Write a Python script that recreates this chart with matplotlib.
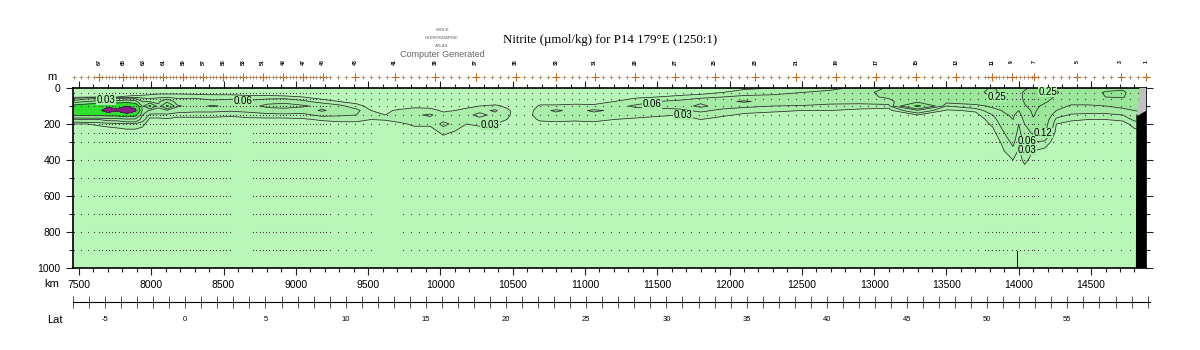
import numpy as np
import matplotlib
matplotlib.use('Agg')
import matplotlib.pyplot as plt
from matplotlib.ticker import MultipleLocator, FixedLocator

plt.rcParams['font.family'] = ['Liberation Sans', 'DejaVu Sans']

#- section grid
depth_m = [0, 25, 50, 75, 100, 125, 150, 175, 200, 250, 300, 350, 400, 450, 1000]
dist_km = [7459, 7560, 7640, 7700, 7760, 7830, 7890, 7940, 7990, 8050,
           8110, 8180, 8300, 8420, 8550, 8680, 8800, 8920, 9050, 9180,
           9300, 9420, 9520, 9620, 9720, 9820, 9930, 10020, 10100, 10180,
           10270, 10380, 10460, 10530, 10620, 10690, 10800, 10930, 11060, 11200,
           11350, 11500, 11650, 11800, 11950, 12100, 12300, 12500, 12700, 12900,
           13100, 13300, 13500, 13700, 13820, 13900, 13960, 14000, 14040, 14100,
           14180, 14260, 14360, 14480, 14600, 14720, 14800, 14880]
# one profile per distance, values on depth_m
nitrite = [
    [0.01, 0.01, 0.02, 0.15, 0.6, 0.7, 0.55, 0.1, 0.03, 0.01, 0.01, 0.01, 0.01, 0.01, 0.01],
    [0.01, 0.01, 0.025, 0.25, 0.7, 0.8, 0.55, 0.12, 0.03, 0.01, 0.01, 0.01, 0.01, 0.01, 0.01],
    [0.01, 0.01, 0.03, 0.3, 0.8, 0.9, 0.55, 0.12, 0.035, 0.01, 0.01, 0.01, 0.01, 0.01, 0.01],
    [0.01, 0.01, 0.03, 0.3, 0.9, 1.3, 0.6, 0.15, 0.04, 0.01, 0.01, 0.01, 0.01, 0.01, 0.01],
    [0.01, 0.01, 0.03, 0.3, 0.9, 1.05, 0.6, 0.15, 0.045, 0.01, 0.01, 0.01, 0.01, 0.01, 0.01],
    [0.01, 0.01, 0.035, 0.35, 1.0, 1.5, 0.7, 0.2, 0.05, 0.015, 0.01, 0.01, 0.01, 0.01, 0.01],
    [0.01, 0.01, 0.04, 0.3, 0.8, 1.1, 0.6, 0.2, 0.05, 0.015, 0.01, 0.01, 0.01, 0.01, 0.01],
    [0.01, 0.015, 0.04, 0.12, 0.2, 0.2, 0.12, 0.08, 0.04, 0.01, 0.01, 0.01, 0.01, 0.01, 0.01],
    [0.01, 0.02, 0.04, 0.1, 0.55, 0.1, 0.05, 0.02, 0.01, 0.01, 0.01, 0.01, 0.01, 0.01, 0.01],
    [0.01, 0.02, 0.05, 0.1, 0.14, 0.09, 0.05, 0.02, 0.01, 0.01, 0.01, 0.01, 0.01, 0.01, 0.01],
    [0.01, 0.02, 0.05, 0.2, 0.55, 0.1, 0.05, 0.025, 0.01, 0.01, 0.01, 0.01, 0.01, 0.01, 0.01],
    [0.01, 0.02, 0.05, 0.08, 0.13, 0.08, 0.04, 0.02, 0.01, 0.01, 0.01, 0.01, 0.01, 0.01, 0.01],
    [0.01, 0.02, 0.045, 0.1, 0.09, 0.07, 0.04, 0.02, 0.01, 0.01, 0.01, 0.01, 0.01, 0.01, 0.01],
    [0.01, 0.02, 0.04, 0.07, 0.13, 0.07, 0.04, 0.02, 0.01, 0.01, 0.01, 0.01, 0.01, 0.01, 0.01],
    [0.01, 0.02, 0.04, 0.08, 0.1, 0.065, 0.035, 0.02, 0.01, 0.01, 0.01, 0.01, 0.01, 0.01, 0.01],
    [0.01, 0.02, 0.035, 0.07, 0.09, 0.07, 0.045, 0.02, 0.01, 0.01, 0.01, 0.01, 0.01, 0.01, 0.01],
    [0.01, 0.02, 0.035, 0.09, 0.14, 0.08, 0.05, 0.02, 0.01, 0.01, 0.01, 0.01, 0.01, 0.01, 0.01],
    [0.01, 0.015, 0.035, 0.1, 0.15, 0.09, 0.05, 0.02, 0.01, 0.01, 0.01, 0.01, 0.01, 0.01, 0.01],
    [0.01, 0.015, 0.03, 0.07, 0.13, 0.08, 0.05, 0.025, 0.01, 0.01, 0.01, 0.01, 0.01, 0.01, 0.01],
    [0.01, 0.01, 0.02, 0.04, 0.1, 0.13, 0.07, 0.035, 0.015, 0.01, 0.01, 0.01, 0.01, 0.01, 0.01],
    [0.01, 0.01, 0.02, 0.03, 0.07, 0.09, 0.065, 0.04, 0.02, 0.01, 0.01, 0.01, 0.01, 0.01, 0.01],
    [0.01, 0.01, 0.015, 0.02, 0.04, 0.07, 0.06, 0.04, 0.02, 0.01, 0.01, 0.01, 0.01, 0.01, 0.01],
    [0.01, 0.01, 0.01, 0.015, 0.02, 0.03, 0.035, 0.03, 0.02, 0.01, 0.01, 0.01, 0.01, 0.01, 0.01],
    [0.01, 0.01, 0.01, 0.01, 0.015, 0.025, 0.03, 0.032, 0.02, 0.01, 0.01, 0.01, 0.01, 0.01, 0.01],
    [0.01, 0.01, 0.01, 0.01, 0.015, 0.035, 0.045, 0.04, 0.025, 0.01, 0.01, 0.01, 0.01, 0.01, 0.01],
    [0.01, 0.01, 0.01, 0.01, 0.02, 0.045, 0.055, 0.045, 0.035, 0.015, 0.01, 0.01, 0.01, 0.01, 0.01],
    [0.01, 0.01, 0.01, 0.01, 0.02, 0.04, 0.065, 0.05, 0.035, 0.015, 0.01, 0.01, 0.01, 0.01, 0.01],
    [0.01, 0.01, 0.01, 0.01, 0.015, 0.025, 0.04, 0.05, 0.07, 0.035, 0.015, 0.01, 0.01, 0.01, 0.01],
    [0.01, 0.01, 0.01, 0.01, 0.015, 0.03, 0.045, 0.05, 0.05, 0.025, 0.01, 0.01, 0.01, 0.01, 0.01],
    [0.01, 0.01, 0.01, 0.01, 0.02, 0.04, 0.05, 0.04, 0.03, 0.015, 0.01, 0.01, 0.01, 0.01, 0.01],
    [0.01, 0.01, 0.01, 0.015, 0.03, 0.05, 0.07, 0.05, 0.035, 0.015, 0.01, 0.01, 0.01, 0.01, 0.01],
    [0.01, 0.01, 0.01, 0.015, 0.035, 0.065, 0.05, 0.04, 0.03, 0.01, 0.01, 0.01, 0.01, 0.01, 0.01],
    [0.01, 0.01, 0.01, 0.01, 0.025, 0.035, 0.035, 0.03, 0.02, 0.01, 0.01, 0.01, 0.01, 0.01, 0.01],
    [0.01, 0.01, 0.01, 0.01, 0.015, 0.02, 0.02, 0.02, 0.015, 0.01, 0.01, 0.01, 0.01, 0.01, 0.01],
    [0.01, 0.01, 0.01, 0.01, 0.015, 0.02, 0.025, 0.02, 0.015, 0.01, 0.01, 0.01, 0.01, 0.01, 0.01],
    [0.01, 0.01, 0.01, 0.015, 0.035, 0.05, 0.045, 0.035, 0.02, 0.01, 0.01, 0.01, 0.01, 0.01, 0.01],
    [0.01, 0.01, 0.01, 0.015, 0.035, 0.065, 0.05, 0.04, 0.02, 0.01, 0.01, 0.01, 0.01, 0.01, 0.01],
    [0.01, 0.01, 0.01, 0.015, 0.04, 0.05, 0.045, 0.035, 0.02, 0.01, 0.01, 0.01, 0.01, 0.01, 0.01],
    [0.01, 0.01, 0.01, 0.02, 0.035, 0.065, 0.05, 0.04, 0.02, 0.01, 0.01, 0.01, 0.01, 0.01, 0.01],
    [0.01, 0.01, 0.015, 0.03, 0.05, 0.055, 0.045, 0.03, 0.02, 0.01, 0.01, 0.01, 0.01, 0.01, 0.01],
    [0.01, 0.015, 0.025, 0.045, 0.065, 0.05, 0.04, 0.025, 0.015, 0.01, 0.01, 0.01, 0.01, 0.01, 0.01],
    [0.01, 0.015, 0.03, 0.06, 0.07, 0.05, 0.035, 0.02, 0.01, 0.01, 0.01, 0.01, 0.01, 0.01, 0.01],
    [0.01, 0.02, 0.035, 0.07, 0.08, 0.05, 0.03, 0.02, 0.01, 0.01, 0.01, 0.01, 0.01, 0.01, 0.01],
    [0.01, 0.02, 0.045, 0.1, 0.14, 0.07, 0.04, 0.03, 0.015, 0.01, 0.01, 0.01, 0.01, 0.01, 0.01],
    [0.015, 0.03, 0.06, 0.1, 0.08, 0.05, 0.035, 0.02, 0.01, 0.01, 0.01, 0.01, 0.01, 0.01, 0.01],
    [0.025, 0.04, 0.07, 0.13, 0.07, 0.04, 0.025, 0.015, 0.01, 0.01, 0.01, 0.01, 0.01, 0.01, 0.01],
    [0.03, 0.05, 0.07, 0.09, 0.06, 0.035, 0.02, 0.015, 0.01, 0.01, 0.01, 0.01, 0.01, 0.01, 0.01],
    [0.04, 0.06, 0.08, 0.1, 0.055, 0.03, 0.02, 0.01, 0.01, 0.01, 0.01, 0.01, 0.01, 0.01, 0.01],
    [0.05, 0.07, 0.09, 0.08, 0.045, 0.03, 0.02, 0.01, 0.01, 0.01, 0.01, 0.01, 0.01, 0.01, 0.01],
    [0.07, 0.1, 0.1, 0.08, 0.04, 0.025, 0.015, 0.01, 0.01, 0.01, 0.01, 0.01, 0.01, 0.01, 0.01],
    [0.13, 0.14, 0.13, 0.1, 0.04, 0.02, 0.01, 0.01, 0.01, 0.01, 0.01, 0.01, 0.01, 0.01, 0.01],
    [0.18, 0.2, 0.2, 0.2, 0.55, 0.1, 0.03, 0.015, 0.01, 0.01, 0.01, 0.01, 0.01, 0.01, 0.01],
    [0.2, 0.21, 0.2, 0.15, 0.06, 0.025, 0.015, 0.01, 0.01, 0.01, 0.01, 0.01, 0.01, 0.01, 0.01],
    [0.22, 0.23, 0.22, 0.18, 0.09, 0.035, 0.02, 0.01, 0.01, 0.01, 0.01, 0.01, 0.01, 0.01, 0.01],
    [0.26, 0.27, 0.25, 0.2, 0.14, 0.09, 0.06, 0.045, 0.035, 0.02, 0.01, 0.01, 0.01, 0.01, 0.01],
    [0.22, 0.22, 0.2, 0.18, 0.15, 0.13, 0.11, 0.09, 0.08, 0.06, 0.04, 0.03, 0.02, 0.01, 0.01],
    [0.2, 0.2, 0.2, 0.18, 0.16, 0.14, 0.13, 0.12, 0.11, 0.09, 0.07, 0.05, 0.03, 0.015, 0.01],
    [0.22, 0.23, 0.22, 0.2, 0.16, 0.12, 0.09, 0.07, 0.06, 0.045, 0.035, 0.025, 0.015, 0.01, 0.01],
    [0.24, 0.26, 0.27, 0.26, 0.24, 0.2, 0.16, 0.14, 0.12, 0.09, 0.07, 0.05, 0.04, 0.02, 0.01],
    [0.26, 0.28, 0.3, 0.3, 0.29, 0.27, 0.26, 0.24, 0.2, 0.13, 0.06, 0.03, 0.015, 0.01, 0.01],
    [0.26, 0.28, 0.28, 0.27, 0.22, 0.2, 0.18, 0.16, 0.15, 0.13, 0.05, 0.02, 0.01, 0.01, 0.01],
    [0.24, 0.26, 0.24, 0.2, 0.16, 0.12, 0.08, 0.05, 0.03, 0.015, 0.01, 0.01, 0.01, 0.01, 0.01],
    [0.2, 0.2, 0.2, 0.15, 0.11, 0.08, 0.055, 0.035, 0.02, 0.01, 0.01, 0.01, 0.01, 0.01, 0.01],
    [0.2, 0.21, 0.2, 0.15, 0.11, 0.08, 0.05, 0.03, 0.02, 0.01, 0.01, 0.01, 0.01, 0.01, 0.01],
    [0.22, 0.26, 0.25, 0.18, 0.12, 0.08, 0.05, 0.03, 0.02, 0.01, 0.01, 0.01, 0.01, 0.01, 0.01],
    [0.23, 0.27, 0.26, 0.2, 0.14, 0.1, 0.06, 0.035, 0.02, 0.01, 0.01, 0.01, 0.01, 0.01, 0.01],
    [0.2, 0.2, 0.19, 0.17, 0.14, 0.12, 0.1, 0.07, 0.04, 0.02, 0.01, 0.01, 0.01, 0.01, 0.01],
    [0.2, 0.2, 0.19, 0.17, 0.15, 0.13, 0.11, 0.08, 0.05, 0.02, 0.01, 0.01, 0.01, 0.01, 0.01],
]

levels = [0, 0.03, 0.06, 0.12, 0.25, 0.5, 1.0, 5.0]
fill_colors = ['#b9f7b9', '#abeeab', '#a4eaa4', '#9be69b', '#92e292', '#30e030', '#8a1f8a']
label_levels = ['0.03', '0.06', '0.03', '0.06', '0.03', '0.25', '0.25', '0.12', '0.06', '0.03']
label_km = [7687, 8634, 10342, 11463, 11677, 13848, 14201, 14167, 14056, 14056]
label_depth = [67, 72, 206, 89, 150, 50, 22, 250, 294, 344]

#- stations along the line
stn_km = [7465, 7512, 7560, 7605,
          7638, 7660, 7684, 7706, 7730, 7752, 7776, 7804, 7826, 7850, 7872, 7896, 7920,
          7943, 7966, 7990, 8012, 8036, 8058, 8081, 8104, 8128, 8150, 8174, 8196, 8219,
          8242, 8265, 8288, 8312, 8335, 8358, 8380, 8404, 8427, 8450, 8473, 8496, 8519,
          8542, 8565, 8588, 8611, 8634, 8657, 8680, 8703, 8726, 8749, 8772, 8795, 8818,
          8841, 8865, 8888, 8911, 8934, 8957, 8980, 9003, 9026, 9049, 9072, 9095, 9118,
          9141, 9164, 9187, 9210, 9236,
          9290, 9350, 9409, 9465, 9520, 9575, 9630, 9685, 9740, 9795, 9850, 9907, 9962,
          10018, 10075, 10132, 10188, 10245, 10300, 10356, 10411, 10466, 10522, 10577,
          10633, 10688, 10744, 10799, 10853, 10907, 10960, 11014, 11068, 11123, 11179,
          11234, 11290, 11345, 11400, 11456, 11511, 11567, 11622, 11677, 11733, 11788,
          11843, 11898, 11953, 12008, 12064, 12120, 12175, 12232, 12289, 12345, 12402,
          12459, 12514, 12570, 12625, 12680, 12735, 12790, 12846, 12901, 12957, 13012,
          13067, 13122, 13178, 13233, 13288, 13343, 13399, 13454, 13510, 13565, 13615,
          13665, 13715, 13765,
          13790, 13814, 13840, 13866, 13893, 13920, 13952, 13980, 14008, 14035, 14062,
          14090, 14104, 14130,
          14180, 14235, 14290, 14346, 14402, 14460, 14520, 14580, 14640, 14706, 14766,
          14826, 14878]
bottle_depth = [25, 60, 100, 150, 200, 250, 300, 400, 500, 600, 700, 800, 900]
no_deep_bottles = [(8560, 8685), (9560, 9720)]
stn_lab_km = [7638, 7804, 7943, 8081, 8219, 8358, 8496, 8634, 8772, 8911, 9049, 9187,
              9409, 9685, 9962, 10245, 10522, 10799, 11068, 11345, 11622, 11898, 12175,
              12459, 12735, 13012, 13288, 13565, 13814, 13952, 14104, 14402, 14706, 14878]
stn_lab = ['67', '65', '63', '61', '59', '57', '55', '53', '51', '49', '47', '45',
           '43', '41', '39', '37', '35', '33', '31', '29', '27', '25', '23', '21',
           '19', '17', '15', '13', '11', '9', '7', '5', '3', '1']

#- sea floor at the north end
floor_km = [14815, 14818, 14880, 14880]
floor_depth = [1000, 150, 122, 1000]
nodata_km = [14840, 14880, 14880, 14822]
nodata_depth = [0, 0, 122, 150]

lat_ticks = [-5, 0, 5, 10, 15, 20, 25, 30, 35, 40, 45, 50, 55]

fig = plt.figure(figsize=(12, 3.5), dpi=100)
ax = fig.add_axes([73/1200, 82/350, 1073/1200, 180/350])

Z = np.array(nitrite).T
ax.contourf(dist_km, depth_m, Z, levels=levels, colors=fill_colors)
ax.contour(dist_km, depth_m, Z, levels=levels[1:-1], colors='#2b2b2b', linewidths=0.55)

ax.fill(floor_km, floor_depth, color='black', zorder=3)
ax.fill(nodata_km, nodata_depth, color='#c0c0c0', zorder=3)
ax.plot([13987, 13987], [905, 1000], color='black', lw=0.7, zorder=3)

# bottle positions
bx, by = [], []
for k in stn_km:
    for d in bottle_depth:
        if d > 200 and any(a <= k <= b for a, b in no_deep_bottles):
            continue
        bx.append(k)
        by.append(d)
ax.scatter(bx, by, s=0.7, color='#303030', linewidths=0, zorder=2)

for t, k, d in zip(label_levels, label_km, label_depth):
    ax.text(k, d, t, fontsize=7, ha='center', va='center', zorder=4,
            bbox=dict(facecolor='#a8eda8', edgecolor='none', pad=0.2))

ax.set_xlim(7459, 14880)
ax.set_ylim(1000, 0)
ax.xaxis.set_major_locator(MultipleLocator(500))
ax.xaxis.set_minor_locator(MultipleLocator(100))
ax.yaxis.set_major_locator(MultipleLocator(200))
ax.yaxis.set_minor_locator(MultipleLocator(100))
ax.tick_params(which='both', direction='out', top=True, right=True, labelsize=7.5,
               width=0.8, color='#222222')
ax.tick_params(which='major', length=5)
ax.tick_params(which='minor', length=3)
ax.tick_params(axis='x', pad=4)
ax.tick_params(axis='y', pad=4)
for s in ax.spines.values():
    s.set_linewidth(1.2)

# stations row above the section
xt = ax.get_xaxis_transform()
ax.plot(stn_km, [1.061]*len(stn_km), '+', color='#a07850', ms=3.5, mew=0.5,
        transform=xt, clip_on=False)
ax.plot(stn_lab_km, [1.061]*len(stn_lab_km), '+', color='#c06a20', ms=6, mew=0.8,
        transform=xt, clip_on=False)
for k, t in zip(stn_lab_km, stn_lab):
    ax.text(k, 1.145, t, transform=xt, rotation=90, fontsize=3.8, fontweight='bold',
            ha='center', va='center', clip_on=False)

# latitude scale
lax = fig.add_axes([73/1200, 48/350, 1077/1200, 0.0001])
lax.set_xlim(-7.0, 60.15)
lax.set_yticks([])
for side in ['top', 'left', 'right']:
    lax.spines[side].set_visible(False)
lax.spines['bottom'].set_linewidth(0.8)
lax.xaxis.set_major_locator(FixedLocator(lat_ticks))
lax.xaxis.set_minor_locator(MultipleLocator(1))
lax.tick_params(which='both', direction='inout', length=8, width=0.6, color='#333333')
lax.tick_params(axis='x', labelsize=5.5, pad=6)
lax.set_xticklabels([str(v) for v in lat_ticks])

fig.text(52/1200, 1-77/350, 'm', fontsize=8, ha='center', va='center')
fig.text(52/1200, 1-284/350, 'km', fontsize=8, ha='center', va='center')
fig.text(55/1200, 1-320/350, 'Lat', fontsize=8, ha='center', va='center')

fig.text(610/1200, 1-40/350, 'Nitrite (\u00b5mol/kg) for P14 179\u00b0E (1250:1)',
         fontsize=9.3, ha='center', va='center', family=['Liberation Serif', 'DejaVu Serif'])
fig.text(442/1200, 1-30/350, 'WOCE', fontsize=3, color='#888888', fontweight='bold',
         ha='center', va='center')
fig.text(442/1200, 1-38/350, 'HYDROGRAPHIC', fontsize=3, color='#888888', fontweight='bold',
         ha='center', va='center')
fig.text(442/1200, 1-46/350, 'ATLAS', fontsize=3, color='#888888', fontweight='bold',
         ha='center', va='center')
fig.text(442/1200, 1-54.5/350, 'Computer Generated', fontsize=6.5, color='#666666',
         ha='center', va='center')

fig.savefig('out.png', dpi=100)
